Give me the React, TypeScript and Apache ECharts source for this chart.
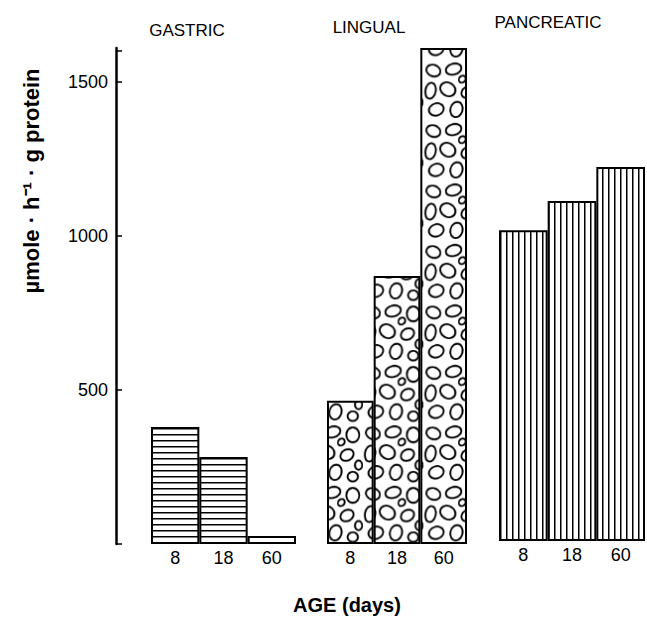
import React, { useEffect, useRef } from 'react';
import * as echarts from 'echarts';

const ages = ['8', '18', '60'];
const gastric = [380, 282, 26];
const lingual = [465, 870, 1610];
const pancreatic = [1009, 1104, 1214];
const yTickValues = [0, 500, 1000, 1500, 1600];
const yLabelValues = [500, 1000, 1500];
const groupNames = ['GASTRIC', 'LINGUAL', 'PANCREATIC'];

const FONT = 'Liberation Sans, Arial, sans-serif';

function stripes(vertical: boolean) {
  const c = document.createElement('canvas');
  c.width = 12;
  c.height = 12;
  const ctx = c.getContext('2d')!;
  ctx.fillStyle = '#fff';
  ctx.fillRect(0, 0, 12, 12);
  ctx.fillStyle = '#000';
  if (vertical) ctx.fillRect(4, 0, 3, 12);
  else ctx.fillRect(0, 4, 12, 3);
  return { image: c, repeat: 'repeat', scaleX: 0.5, scaleY: 0.5 } as any;
}

function cobbles() {
  const S = 42;
  const c = document.createElement('canvas');
  c.width = S * 2;
  c.height = S * 2;
  const ctx = c.getContext('2d')!;
  ctx.scale(2, 2);
  ctx.fillStyle = '#fff';
  ctx.fillRect(0, 0, S, S);
  ctx.strokeStyle = '#000';
  ctx.lineWidth = 1.3;
  const blobs: number[][] = [
    [7, 7, 5, 4, 20],
    [21, 6, 5.5, 3.8, -15],
    [35, 8, 4.5, 5.2, 0],
    [5, 21, 3.6, 5.6, 10],
    [17, 20, 5.5, 4.6, 30],
    [31, 22, 4.8, 3.8, -30],
    [39, 29, 2.5, 3.2, 0],
    [9, 34, 5.2, 4.2, -20],
    [23, 34, 4.2, 5.4, 15],
    [35, 37, 3.6, 3.4, 0],
    [27, 13, 2.2, 2.6, 40],
  ];
  blobs.forEach(([x, y, rx, ry, r]) => {
    ctx.beginPath();
    ctx.ellipse(x, y, rx, ry, (r * Math.PI) / 180, 0, Math.PI * 2);
    ctx.stroke();
  });
  return { image: c, repeat: 'repeat', scaleX: 0.72, scaleY: 0.72 } as any;
}

export default function App() {
  const ref = useRef<HTMLDivElement>(null);
  useEffect(() => {
    document.body.style.margin = '0';
    const chart = echarts.init(ref.current!, null, { renderer: 'svg' });
    const grids = [
      { left: 151, top: 48, width: 145, height: 496 },
      { left: 327, top: 48, width: 140, height: 496 },
      { left: 499, top: 45, width: 146, height: 496 },
    ];
    const xAxis = grids.map((_, i) => ({
      type: 'category',
      gridIndex: i,
      data: ages,
      axisLine: { show: false },
      axisTick: { show: false },
      axisLabel: { fontSize: 18, color: '#000', margin: 5, fontFamily: FONT },
    }));
    const yAxis = grids.map((_, i) =>
      i === 0
        ? {
            type: 'value',
            gridIndex: 0,
            min: 0,
            max: 1610,
            offset: 35,
            splitLine: { show: false },
            axisLine: { show: true, lineStyle: { color: '#000', width: 2.5 } },
            axisTick: {
              show: true,
              inside: true,
              length: 6,
              customValues: yTickValues,
              lineStyle: { color: '#000', width: 1.5 },
            },
            axisLabel: {
              customValues: yLabelValues,
              formatter: (v: number) => String(v),
              fontSize: 18,
              color: '#000',
              margin: 8,
              fontFamily: FONT,
            },
          }
        : { type: 'value', gridIndex: i, min: 0, max: 1610, show: false, splitLine: { show: false } }
    );
    const fills = [stripes(false), cobbles(), stripes(true)];
    const datasets = [gastric, lingual, pancreatic];
    const series = datasets.map((d, i) => ({
      type: 'bar',
      xAxisIndex: i,
      yAxisIndex: i,
      data: d,
      barWidth: '100%',
      silent: true,
      itemStyle: { color: fills[i], borderColor: '#000', borderWidth: 2 },
    }));
    const titlePos = [
      [187, 30],
      [369, 27],
      [548, 22],
    ];
    chart.setOption({
      animation: false,
      grid: grids,
      xAxis,
      yAxis,
      series,
      graphic: [
        ...groupNames.map((n, i) => ({
          type: 'text',
          x: titlePos[i][0],
          y: titlePos[i][1],
          style: {
            text: n,
            fontSize: 17,
            fontFamily: FONT,
            fill: '#000',
            align: 'center',
            verticalAlign: 'middle',
          },
        })),
        {
          type: 'text',
          x: 31,
          y: 181,
          rotation: Math.PI / 2,
          style: {
            text: 'µmole · h⁻¹ · g protein',
            fontSize: 22,
            fontWeight: 'bold',
            fontFamily: FONT,
            fill: '#000',
            align: 'center',
            verticalAlign: 'middle',
          },
        },
        {
          type: 'text',
          x: 347,
          y: 605,
          style: {
            text: 'AGE (days)',
            fontSize: 20,
            fontWeight: 'bold',
            fontFamily: FONT,
            fill: '#000',
            align: 'center',
            verticalAlign: 'middle',
          },
        },
      ],
    });
    return () => chart.dispose();
  }, []);
  return <div ref={ref} style={{ width: 647, height: 619 }} />;
}
